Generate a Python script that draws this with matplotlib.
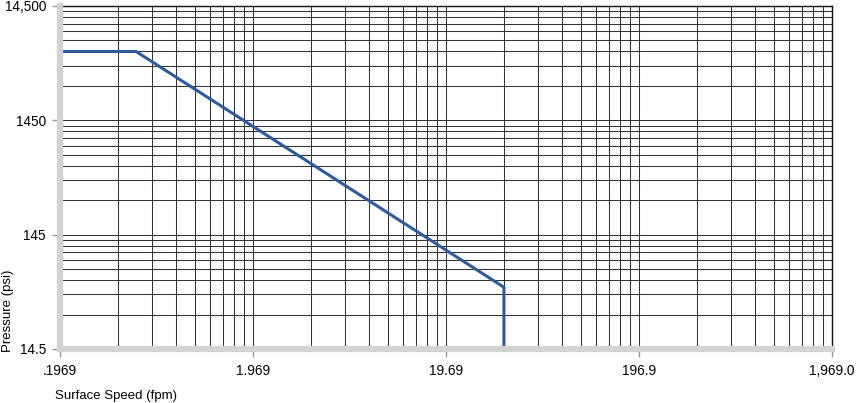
import numpy as np
import matplotlib
matplotlib.use('Agg')
from matplotlib import pyplot as plt
from matplotlib.ticker import FixedLocator, FixedFormatter, NullFormatter

plt.rcParams['font.family'] = ['Liberation Sans', 'DejaVu Sans']

# curve
speed = [0.1969, 0.488, 39.3, 39.3]       # fpm
pressure = [5800, 5800, 50.3, 14.5]       # psi

x_major = [0.1969, 1.969, 19.69, 196.9, 1969.0]
x_labels = ['.1969', '1.969', '19.69', '196.9', '1,969.0']
y_major = [14.5, 145, 1450, 14500]
y_labels = ['14.5', '145', '1450', '14,500']

x_minor = [b * m for b in x_major[:-1] for m in range(2, 10)]
y_minor = [b * m for b in y_major[:-1] for m in range(2, 10)]

fig = plt.figure(figsize=(8.6, 4.03), dpi=100)
ax = fig.add_axes([60/860, 1-349/403, (832-60)/860, (349-6)/403])
ax.set_xscale('log')
ax.set_yscale('log')
ax.set_xlim(x_major[0], x_major[-1])
ax.set_ylim(y_major[0], y_major[-1])

ax.xaxis.set_major_locator(FixedLocator(x_major))
ax.xaxis.set_major_formatter(FixedFormatter(x_labels))
ax.xaxis.set_minor_locator(FixedLocator(x_minor))
ax.xaxis.set_minor_formatter(NullFormatter())
ax.yaxis.set_major_locator(FixedLocator(y_major))
ax.yaxis.set_major_formatter(FixedFormatter(y_labels))
ax.yaxis.set_minor_locator(FixedLocator(y_minor))
ax.yaxis.set_minor_formatter(NullFormatter())

ax.grid(True, which='both', color='#333333', lw=0.75)
ax.set_axisbelow(True)

ax.plot(speed, pressure, color='#2f5b9c', lw=2.2, solid_joinstyle='miter', zorder=3)

for s in ['left', 'bottom']:
    ax.spines[s].set_color('#d3d3d3')
    ax.spines[s].set_linewidth(4.5)
    ax.spines[s].set_zorder(4)
for s in ['top', 'right']:
    ax.spines[s].set_color('#111111')
    ax.spines[s].set_linewidth(1.0)

ax.tick_params(which='major', length=6, width=1, color='#999999', labelsize=9.8, pad=4)
ax.tick_params(axis='x', which='major', pad=5)
ax.tick_params(which='minor', length=0)

fig.text(2/860, 1-352/403, 'Pressure (psi)', rotation=90, ha='left', va='bottom', fontsize=9.5)
fig.text(55/860, 1-396/403, 'Surface Speed (fpm)', ha='left', va='center', fontsize=9.5)

plt.savefig('out.png', dpi=100)
